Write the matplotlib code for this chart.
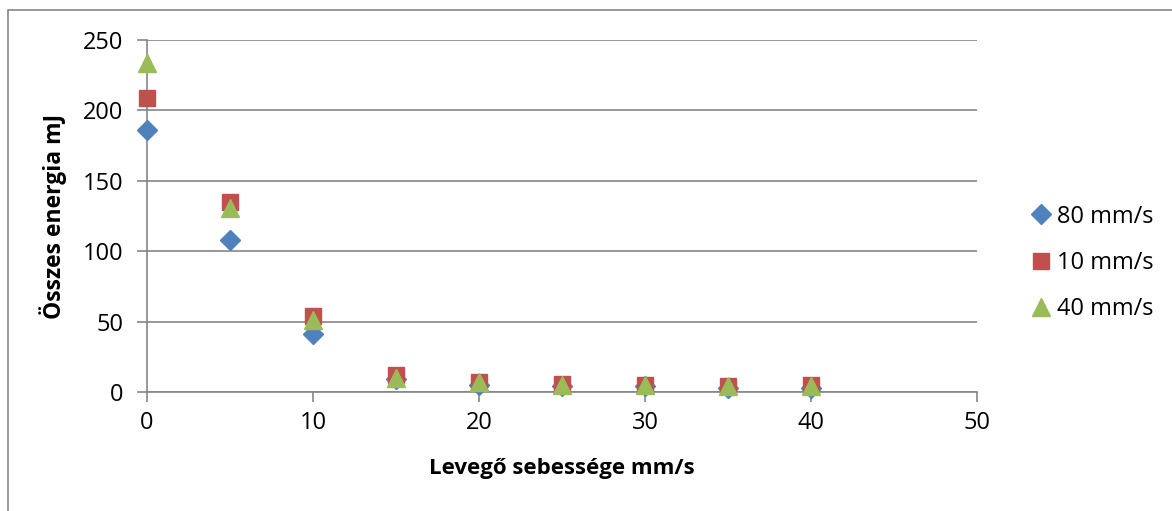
import matplotlib
matplotlib.use("Agg")
import matplotlib.pyplot as plt
from matplotlib.patches import Rectangle

# levegő sebessége (mm/s)
sebesseg = [0, 5, 10, 15, 20, 25, 30, 35, 40]

# összes energia (mJ) az egyes előtolási sebességeknél
energia_80 = [186, 108, 41, 9, 5, 4, 4, 3, 3]
energia_10 = [209, 135, 54, 12, 7, 6, 5, 4, 5]
energia_40 = [234, 131, 51, 10, 7, 5, 5, 4, 4]

cimkek = ["80 mm/s", "10 mm/s", "40 mm/s"]

GRID = "#868686"
FONT = ["Open Sans", "DejaVu Sans"]
plt.rcParams["font.family"] = FONT

fig = plt.figure(figsize=(11.72, 5.11), dpi=100)
fig.patch.set_facecolor("white")

# keret a bal és felső oldalon
fig.patches.append(Rectangle((8 / 1172, -0.1), 1.2, 1 - 10 / 511 + 0.1,
                             transform=fig.transFigure, fill=False,
                             edgecolor=GRID, lw=1.2))

ax = fig.add_axes([147 / 1172, 1 - 392 / 511, 830 / 1172, 352 / 511])

ax.plot(sebesseg, energia_80, ls="none", marker="D", ms=10.5, clip_on=False,
        color="#4F81BD", mec="#4F81BD", label=cimkek[0], zorder=3)
ax.plot(sebesseg, energia_10, ls="none", marker="s", ms=12, clip_on=False,
        color="#C0504D", mec="#C0504D", label=cimkek[1], zorder=4)
ax.plot(sebesseg, energia_40, ls="none", marker="^", ms=13, clip_on=False,
        color="#9BBB59", mec="#9BBB59", label=cimkek[2], zorder=5)

ax.set_xlim(0, 50)
ax.set_ylim(0, 250)
ax.set_xticks(range(0, 51, 10))
ax.set_yticks(range(0, 251, 50))
ax.yaxis.grid(True, color=GRID, lw=1.2)
ax.set_axisbelow(True)
for s in ["top", "right"]:
    ax.spines[s].set_visible(False)
for s in ["left", "bottom"]:
    ax.spines[s].set_color(GRID)
    ax.spines[s].set_linewidth(1.2)
ax.tick_params(axis="both", colors=GRID, labelcolor="black", labelsize=17,
               length=7, width=1.2, direction="out")
ax.tick_params(axis="x", pad=7)
ax.tick_params(axis="y", pad=10)

ax.set_xlabel("Levegő sebessége mm/s", fontsize=16, fontweight="bold")
ax.set_ylabel("Összes energia mJ", fontsize=16.5, fontweight="bold")
ax.xaxis.set_label_coords(0.5, -(458 - 392) / 352, transform=ax.transAxes)
ax.yaxis.set_label_coords((67 - 147) / 830, 0.5)

leg = ax.legend(loc="center left", bbox_to_anchor=(1022 / 1172, 1 - 263 / 511),
                bbox_transform=fig.transFigure, frameon=False,
                fontsize=17, handlelength=0.8, handletextpad=0.3,
                labelspacing=0.95, borderaxespad=0)

fig.savefig("out.png", dpi=100)
